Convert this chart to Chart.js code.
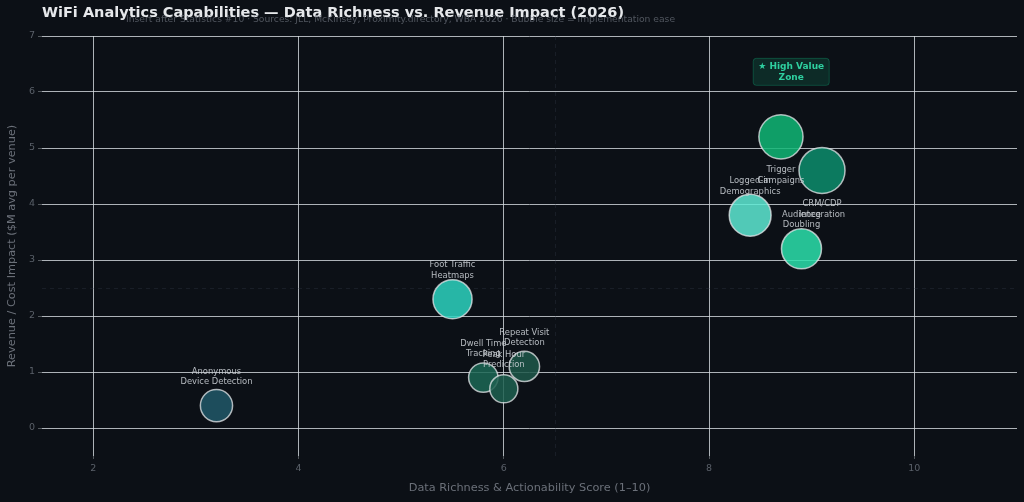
<!DOCTYPE html>
<html>
<head>
<meta charset="utf-8">
<script src="https://cdn.jsdelivr.net/npm/chart.js@4.4.1/dist/chart.umd.min.js"></script>
<style>
  html,body{margin:0;padding:0;background:#0c1016;overflow:hidden;}
  #wrap{width:1024px;height:502px;position:relative;}
</style>
</head>
<body>
<div id="wrap"><canvas id="c" width="1024" height="502"></canvas></div>
<script>
// ---- data ----
const capabilities = [
  ["Anonymous", "Device Detection"],
  ["Foot Traffic", "Heatmaps"],
  ["Dwell Time", "Tracking"],
  ["Peak Hour", "Prediction"],
  ["Repeat Visit", "Detection"],
  ["Logged-in", "Demographics"],
  ["Audience", "Doubling"],
  ["Trigger", "Campaigns"],
  ["CRM/CDP", "Integration"]
];
const dataRichness = [3.2, 5.5, 5.8, 6.0, 6.2, 8.4, 8.9, 8.7, 9.1];
const revenueImpact = [0.4, 2.3, 0.9, 0.7, 1.1, 3.8, 3.2, 5.2, 4.6];
const implementationEase = [7.0, 8.5, 6.4, 6.1, 6.6, 9.1, 8.7, 9.6, 10.0];
const xTicks = [2, 4, 6, 8, 10];
const yTicks = [0, 1, 2, 3, 4, 5, 6, 7];
const titleText = "WiFi Analytics Capabilities \u2014 Data Richness vs. Revenue Impact (2026)";
const subtitleText = "Insert after Statistics #10 \u00b7 Sources: JLL, McKinsey, Proximity.directory, WBA 2026 \u00b7 Bubble size = implementation ease";
const xTitle = "Data Richness & Actionability Score (1\u201310)";
const yTitle = "Revenue / Cost Impact ($M avg per venue)";
const zoneLabel = ["\u2605 High Value", "Zone"];
const zonePos = {x: 8.8, y: 6.36};
const quadrant = {x: 6.5, y: 2.5};

// ---- styles ----
const FONT = "'DejaVu Sans', sans-serif";
const bubbleColors = [
  "rgba(33,88,104,0.85)",
  "rgba(45,212,191,0.85)",
  "rgba(28,103,85,0.85)",
  "rgba(30,96,80,0.85)",
  "rgba(30,88,74,0.85)",
  "rgba(94,234,212,0.85)",
  "rgba(44,225,172,0.85)",
  "rgba(16,183,118,0.85)",
  "rgba(13,141,108,0.85)"
];
const RADIUS_PER_EASE = 2.3;

const points = dataRichness.map((x, i) => ({x: x, y: revenueImpact[i], r: implementationEase[i] * RADIUS_PER_EASE}));

const decor = {
  id: 'decor',
  beforeDraw(chart) {
    const ctx = chart.ctx;
    ctx.save();
    ctx.fillStyle = '#0c1016';
    ctx.fillRect(0, 0, chart.width, chart.height);
    ctx.restore();
  },
  beforeDatasetsDraw(chart) {
    const {ctx, chartArea: a, scales: {x, y}} = chart;
    ctx.save();
    ctx.strokeStyle = 'rgba(60,70,85,0.28)';
    ctx.lineWidth = 1;
    ctx.setLineDash([4, 4]);
    const qx = Math.round(x.getPixelForValue(quadrant.x)) + 0.5;
    const qy = Math.round(y.getPixelForValue(quadrant.y)) + 0.5;
    ctx.beginPath(); ctx.moveTo(qx, a.top); ctx.lineTo(qx, a.bottom); ctx.stroke();
    ctx.beginPath(); ctx.moveTo(a.left, qy); ctx.lineTo(a.right, qy); ctx.stroke();
    ctx.restore();
  },
  afterDatasetsDraw(chart) {
    const {ctx, scales: {x, y}} = chart;
    const meta = chart.getDatasetMeta(0);
    ctx.save();
    ctx.font = "8.4px " + FONT;
    ctx.fillStyle = 'rgba(205,210,215,0.88)';
    ctx.textAlign = 'center';
    ctx.textBaseline = 'middle';
    meta.data.forEach((el, i) => {
      const lines = capabilities[i];
      const below = revenueImpact[i] >= 4.5;
      if (below) {
        ctx.fillText(lines[0], el.x, el.y + 33.5);
        ctx.fillText(lines[1], el.x, el.y + 44.5);
      } else {
        ctx.fillText(lines[0], el.x, el.y - 34);
        ctx.fillText(lines[1], el.x, el.y - 23.5);
      }
    });
    const zx = x.getPixelForValue(zonePos.x);
    const zy = y.getPixelForValue(zonePos.y);
    const w = 76, h = 27;
    ctx.beginPath();
    ctx.roundRect(zx - w / 2, zy - h / 2, w, h, 3);
    ctx.fillStyle = 'rgba(16,185,129,0.16)';
    ctx.fill();
    ctx.strokeStyle = 'rgba(16,185,129,0.3)';
    ctx.lineWidth = 1;
    ctx.stroke();
    ctx.font = "bold 9px " + FONT;
    ctx.fillStyle = '#2ecf9f';
    ctx.fillText(zoneLabel[0], zx, zy - 5.5);
    ctx.fillText(zoneLabel[1], zx, zy + 6);
    ctx.restore();
  },
  afterDraw(chart) {
    const {ctx, chartArea: a} = chart;
    ctx.save();
    ctx.textBaseline = 'middle';
    ctx.textAlign = 'left';
    ctx.font = "bold 14.5px " + FONT;
    ctx.fillStyle = '#e6e8eb';
    ctx.fillText(titleText, 42, 13);
    ctx.font = "9.2px " + FONT;
    ctx.fillStyle = 'rgba(110,116,125,0.7)';
    ctx.fillText(subtitleText, 126, 20);
    ctx.font = "11.3px " + FONT;
    ctx.fillStyle = '#6b7079';
    ctx.textAlign = 'center';
    ctx.fillText(xTitle, (a.left + a.right) / 2, 488);
    ctx.translate(12, (a.top + a.bottom) / 2);
    ctx.rotate(-Math.PI / 2);
    ctx.fillText(yTitle, 0, 0);
    ctx.restore();
  }
};

new Chart(document.getElementById('c'), {
  type: 'bubble',
  data: {
    datasets: [{
      data: points,
      backgroundColor: bubbleColors,
      borderColor: 'rgba(230,232,235,0.75)',
      borderWidth: 1.5,
      hoverRadius: 0
    }]
  },
  options: {
    responsive: false,
    animation: false,
    events: [],
    layout: {autoPadding: false, padding: {top: 36, right: 7, left: 0, bottom: 0}},
    plugins: {legend: {display: false}, tooltip: {enabled: false}},
    scales: {
      x: {
        type: 'linear', min: 1.5, max: 11,
        afterBuildTicks(s) { s.ticks = xTicks.map(v => ({value: v})); },
        afterFit(s) { s.height = 46; s.paddingLeft = 0; s.paddingRight = 0; },
        grid: {color: 'rgba(215,220,225,0.8)', tickColor: 'rgba(130,135,140,0.6)', tickLength: 3, lineWidth: 1},
        border: {display: false},
        ticks: {color: '#5a6069', font: {family: FONT, size: 9.5}, padding: 4}
      },
      y: {
        type: 'linear', min: -0.5, max: 7,
        afterBuildTicks(s) { s.ticks = yTicks.map(v => ({value: v})); },
        afterFit(s) { s.width = 42; s.paddingTop = 0; s.paddingBottom = 0; },
        grid: {color: 'rgba(215,220,225,0.8)', tickColor: 'rgba(130,135,140,0.6)', tickLength: 4, lineWidth: 1},
        border: {display: false},
        ticks: {color: '#5a6069', font: {family: FONT, size: 9.5}, padding: 3}
      }
    }
  },
  plugins: [decor]
});
</script>
</body>
</html>
